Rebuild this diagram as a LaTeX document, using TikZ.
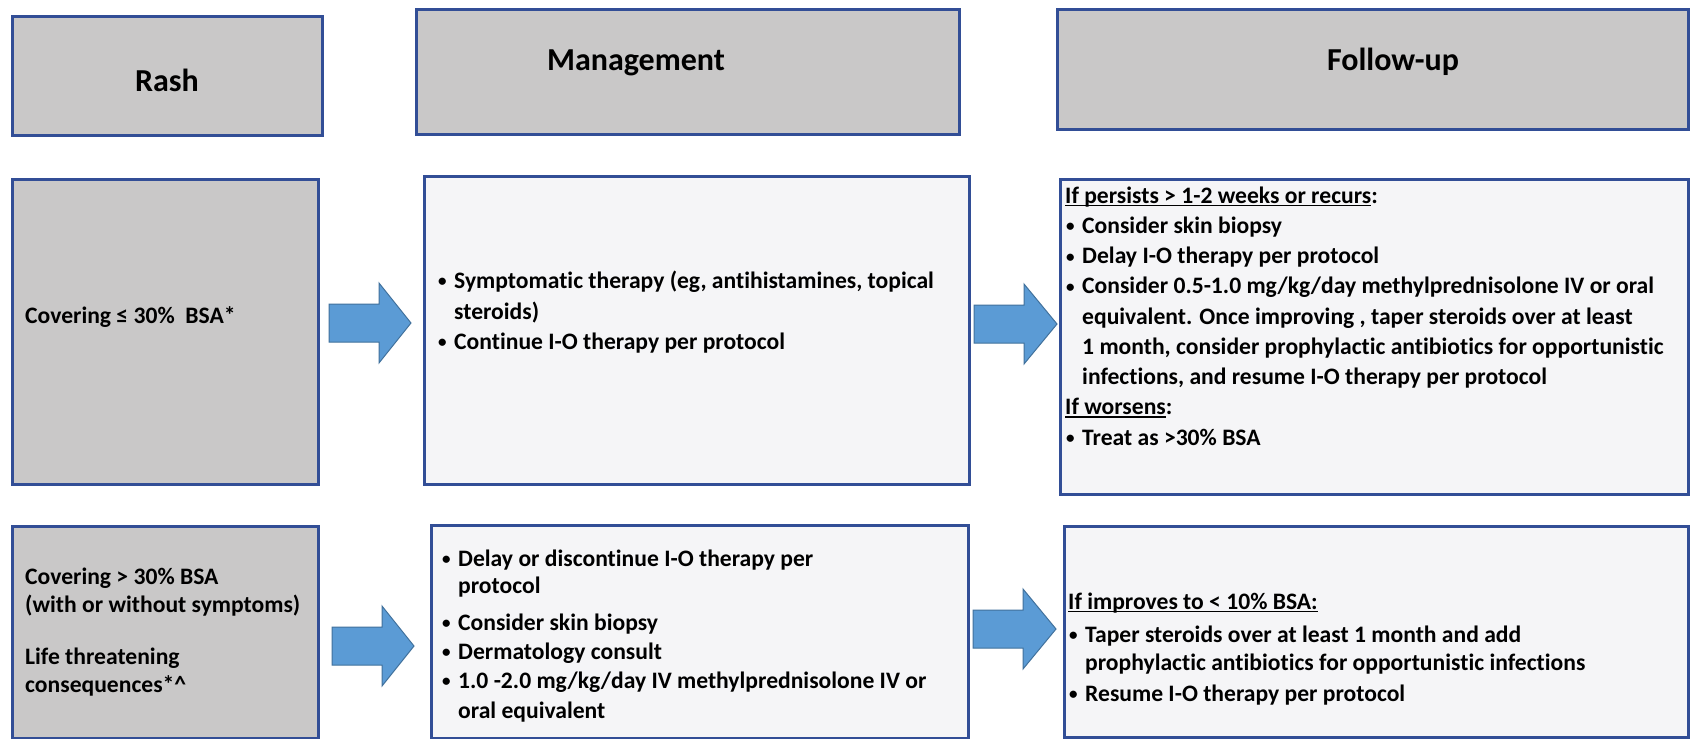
\documentclass[tikz,border=0pt]{standalone}
\usepackage{fontspec}
\setmainfont{Carlito}[Ligatures=NoCommon]
\definecolor{bordc}{RGB}{50,78,150}
\definecolor{grayf}{RGB}{201,200,200}
\definecolor{lightf}{RGB}{245,245,247}
\definecolor{arrf}{RGB}{91,155,213}
\definecolor{arrd}{RGB}{65,113,156}
\newcommand\bul{\makebox[17pt][l]{\hspace*{1pt}\raisebox{1.5pt}{\fontsize{17}{17}\selectfont\textbullet}}}
\newcommand\ind{\hspace*{17pt}}
\newcommand\ulx[1]{\setbox0\hbox{#1}\rlap{\rule[-3pt]{\wd0}{1.3pt}}\box0}
\newcommand\barrow[4]{\filldraw[arrowst] (#1,#4-19) -- (#2,#4-19) -- (#2,#4-40) -- (#3,#4) -- (#2,#4+40) -- (#2,#4+19) -- (#1,#4+19) -- cycle;}
\begin{document}
\begin{tikzpicture}[x=1pt,y=-1pt,
  box/.style={draw=bordc, line width=3pt, inner sep=0pt, anchor=north west},
  graybox/.style={box, fill=grayf},
  lightbox/.style={box, fill=lightf},
  hdr/.style={font=\fontsize{32}{38}\selectfont\bfseries, anchor=base, inner sep=0pt},
  body/.style={font=\fontsize{23.6}{28}\selectfont\bfseries, anchor=base west, inner sep=0pt},
  arrowst/.style={fill=arrf, draw=arrd, line width=1pt, line join=miter}]
\fill[white] (0,0) rectangle (1690,739);
\useasboundingbox (0,0) rectangle (1690,739);
% headers
\node[graybox, minimum width=310, minimum height=119] (hrash) at (11,15) {};
\node[hdr] (thrash) at (167,91) {Rash};
\node[graybox, minimum width=543, minimum height=125] (hmgmt) at (415,8) {};
\node[hdr] (thmgmt) at (636,70) {Management};
\node[graybox, minimum width=631, minimum height=120] (hfol) at (1056,8) {};
\node[hdr] (thfol) at (1393,70) {Follow-up};
% row 1
\node[graybox, minimum width=306, minimum height=305] (r1) at (11,178) {};
\node[body] (r1t) at (25,323) {Covering ≤ 30\%\ \ BSA*};
\node[lightbox, minimum width=545, minimum height=308] (m1) at (423,175) {};
\node[body] (m1a) at (437,288) {\bul Symptomatic therapy (eg, antihistamines, topical};
\node[body] (m1b) at (437,319) {\ind steroids)};
\node[body] (m1c) at (437,349) {\bul Continue I-O therapy per protocol};
\node[lightbox, minimum width=628, minimum height=315] (f1) at (1059,178) {};
\node[body] (f1a) at (1065,203) {\ulx{If persists > 1-2 weeks or recurs}:};
\node[body] (f1b) at (1065,233.25) {\bul Consider skin biopsy};
\node[body] (f1c) at (1065,263.5) {\bul Delay I-O therapy per protocol};
\node[body] (f1d) at (1065,293.75) {\bul Consider 0.5-1.0 mg/kg/day methylprednisolone IV or oral};
\node[body] (f1e) at (1065,324) {\ind equivalent. Once improving , taper steroids over at least};
\node[body] (f1f) at (1065,354.25) {\ind 1 month, consider prophylactic antibiotics for opportunistic};
\node[body] (f1g) at (1065,384.5) {\ind infections, and resume I-O therapy per protocol};
\node[body] (f1h) at (1065,414.75) {\ulx{If worsens}:};
\node[body] (f1i) at (1065,445) {\bul Treat as >30\% BSA};
% row 2
\node[graybox, minimum width=306, minimum height=212] (r2) at (11,525) {};
\node[body] (r2a) at (25,584) {Covering > 30\% BSA};
\node[body] (r2b) at (25,612) {(with or without symptoms)};
\node[body] (r2c) at (25,664) {Life threatening};
\node[body] (r2d) at (25,692) {consequences*\textasciicircum};
\node[lightbox, minimum width=537, minimum height=213] (m2) at (430,524) {};
\node[body] (m2a) at (441,566) {\bul Delay or discontinue I-O therapy per};
\node[body] (m2b) at (441,593) {\ind protocol};
\node[body] (m2c) at (441,630) {\bul Consider skin biopsy};
\node[body] (m2d) at (441,659) {\bul Dermatology consult};
\node[body] (m2e) at (441,688) {\bul 1.0 -2.0 mg/kg/day IV methylprednisolone IV or};
\node[body] (m2f) at (441,718) {\ind oral equivalent};
\node[lightbox, minimum width=624, minimum height=211] (f2) at (1063,525) {};
\node[body] (f2a) at (1068,609) {\ulx{If improves to < 10\% BSA:}};
\node[body] (f2b) at (1068,642) {\bul Taper steroids over at least 1 month and add};
\node[body] (f2c) at (1068,670) {\ind prophylactic antibiotics for opportunistic infections};
\node[body] (f2d) at (1068,701) {\bul Resume I-O therapy per protocol};
% block arrows
\barrow{329}{379}{411}{323}
\barrow{974}{1024}{1057}{324}
\barrow{332}{382}{414}{646}
\barrow{973}{1023}{1056}{629}
\end{tikzpicture}
\end{document}
